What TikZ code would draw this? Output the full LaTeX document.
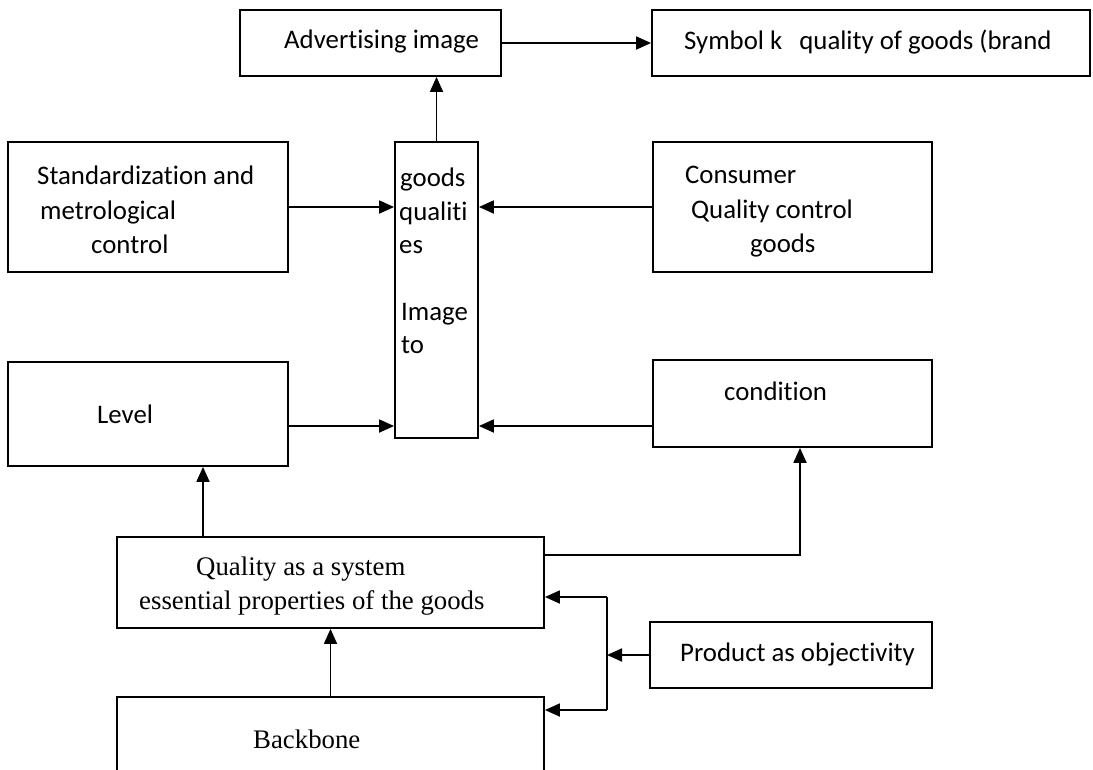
\documentclass[tikz,border=0pt]{standalone}
\usepackage{fontspec}
\setmainfont{Carlito}[Ligatures=NoCommon, RawFeature={-liga;-clig}]
\newfontfamily\timesfont{Liberation Serif}
\usetikzlibrary{arrows.meta,fit,positioning}

\tikzset{
  box/.style={draw, line width=1.8pt, inner sep=0pt},
  txt/.style={anchor=north west, inner sep=0pt, align=left,
              font=\fontsize{26.8}{34.5}\selectfont},
  serif/.style={font=\timesfont\fontsize{26.8}{34}\selectfont},
  link/.style={line width=1.8pt, -{Triangle[length=15pt,width=13pt]}},
}

\begin{document}
\begin{tikzpicture}[x=1pt, y=-1pt]
    % Frame of the page
    \useasboundingbox (0,0) rectangle (1093,769);
    \clip (0,0) rectangle (1093,769);

    % Boxes
    \node[box, fit={(240,10) (501,76)}] (adv) {};
    \node[box, fit={(652,10) (1090,76)}] (sym) {};
    \node[box, fit={(8,142) (288,272)}] (std) {};
    \node[box, fit={(395,142) (478,438)}] (img) {};
    \node[box, fit={(653,142) (932,272)}] (cons) {};
    \node[box, fit={(8,362) (288,466)}] (lvl) {};
    \node[box, fit={(653,360) (932,447)}] (cond) {};
    \node[box, fit={(117,537) (544,628)}] (qual) {};
    \node[box, fit={(650,622) (932,688)}] (prod) {};
    \node[box, fit={(117,697) (544,820)}] (back) {};

    % Texts
    \node[txt] (advT) at (284,30) {Advertising image};
    \node[txt] (symT) at (684,30) {Symbol k\hspace{11pt} quality of goods (brand};
    \node[txt] (stdT) at (37,166) {Standardization and\\
        \hspace*{3pt}metrological\\ \hspace*{54pt}control};
    \node[txt, font=\fontsize{26.8}{33.4}\selectfont] (imgT) at (399,168)
        {\hspace*{1pt}goods\\ qualiti\\ es\\ \mbox{}\\
        \hspace*{2pt}Image\\ \hspace*{2pt}to};
    \node[txt] (consT) at (685,166) {Consumer\\ \hspace*{6pt}Quality control\\
        \hspace*{65pt}goods};
    \node[txt] (lvlT) at (97,405) {Level};
    \node[txt] (condT) at (724,382) {condition};
    \node[txt, serif] (qualT) at (139,557) {\hspace*{57pt}Quality as a system\\
        essential properties of the goods};
    \node[txt] (prodT) at (680,643) {Product as objectivity};
    \node[txt, serif] (backT) at (253,730) {Backbone};

    % Links into the central box
    \draw[link] (img.north) -- (img.north |- adv.south);
    \draw[link] (adv.east) -- (sym.west);
    \draw[link] (std.east) -- (std.east -| img.west);
    \draw[link] (cons.west) -- (cons.west -| img.east);
    \draw[link] ([yshift=-12pt]lvl.east) -- ([yshift=-12pt]lvl.east -| img.west);
    \draw[link] ([yshift=-22.5pt]cond.west) -- ([yshift=-22.5pt]cond.west -| img.east);

    % Links from the quality box
    \draw[link] ([xshift=-127.5pt]qual.north) -- ([xshift=-127.5pt]qual.north |- lvl.south);
    \draw[link] ([yshift=27.5pt]qual.east) -| ([xshift=7.5pt]cond.south);
    \draw[link] (back.north) -- (qual.south);

    % Fork from the product box
    \coordinate (forkT) at (607,597);
    \coordinate (forkB) at (607,710);
    \draw[line width=1.8pt] (forkT) -- (forkB);
    \draw[link] (prod.west) -- (prod.west -| forkT);
    \draw[link] (forkT) -- (forkT -| qual.east);
    \draw[link] (forkB) -- (forkB -| back.east);
\end{tikzpicture}
\end{document}
